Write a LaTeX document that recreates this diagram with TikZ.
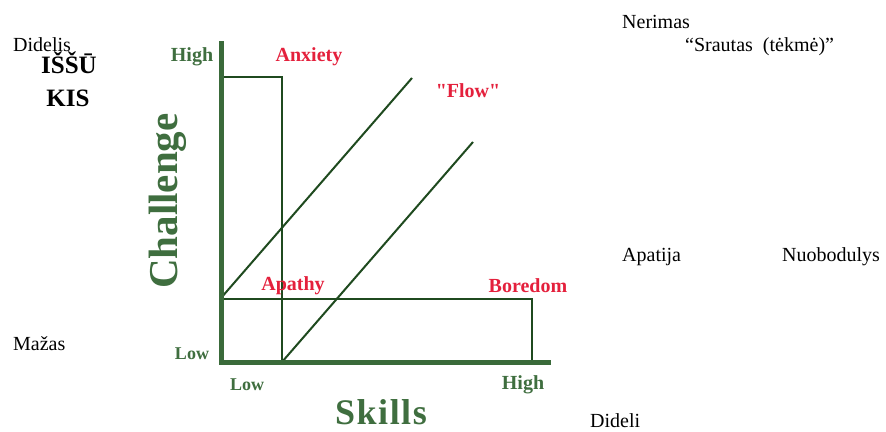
\documentclass[tikz,border=0pt]{standalone}
\usepackage{fontspec}
\setmainfont{Liberation Serif}
\newfontfamily\rawserif{Liberation Serif}[Ligatures=TeXOff]
\definecolor{axisgreen}{HTML}{3A6A3A}
\definecolor{linegreen}{HTML}{1F4A1F}
\definecolor{labgreen}{HTML}{3F6E3F}
\definecolor{labred}{HTML}{E4203C}
\begin{document}
\begin{tikzpicture}[x=1pt,y=-1pt,
  axis/.style={draw=axisgreen,line width=5pt},
  zone/.style={draw=linegreen,line width=2.4pt},
  flowline/.style={draw=linegreen,line width=2pt},
  tick/.style={text=labgreen,font=\fontsize{20}{22}\selectfont\bfseries,inner sep=0pt},
  zlab/.style={text=labred,font=\fontsize{20}{22}\selectfont\bfseries,inner sep=0pt},
  ltx/.style={font=\fontsize{20}{22}\selectfont,inner sep=0pt,anchor=base west},
  ltb/.style={font=\fontsize{25}{27}\selectfont\bfseries,inner sep=0pt,anchor=base}]
\useasboundingbox (0,0) rectangle (886,431);
% coordinates
\coordinate (top) at (221,43);
\coordinate (origin) at (221,362);
\coordinate (xend) at (548,362);
\coordinate (ax1) at (221,77);
\coordinate (ax2) at (282,77);
\coordinate (ax3) at (282,362);
\coordinate (ap1) at (221,299);
\coordinate (bo1) at (532,299);
\coordinate (bo2) at (532,362);
\coordinate (f1a) at (221,298);
\coordinate (f1b) at (412,78);
\coordinate (f2a) at (282,362);
\coordinate (f2b) at (473,142);
% zones
\draw[zone] (ax1) -- (ax2) -- (ax3);
\draw[zone] (ap1) -- (bo1) -- (bo2);
\draw[flowline] (f1a) -- (f1b);
\draw[flowline] (f2a) -- (f2b);
% axes
\draw[axis,line cap=rect] (top) -- (origin) -- (xend);
% axis labels
\node[tick] (yhigh) at (192,57) {High};
\node[tick,font=\fontsize{18}{20}\selectfont\bfseries] (ylow) at (192,354) {Low};
\node[tick,font=\fontsize{18}{20}\selectfont\bfseries] (xlow) at (247,385) {Low};
\node[tick] (xhigh) at (523,385) {High};
\node[text=labgreen,font=\fontsize{36}{38}\selectfont\bfseries,inner sep=0pt,anchor=base] (skills) at (381,424) {S\kern1.5pt k\kern1.5pt i\kern1.5pt l\kern1.5pt l\kern1.5pt s};
\node[text=labgreen,font=\fontsize{41}{43}\selectfont\bfseries,inner sep=0pt,rotate=90] (chal) at (168,201) {Challenge};
% zone labels
\node[zlab] (anx) at (309,57) {Anxiety};
\node[zlab,font=\rawserif\fontsize{20}{22}\selectfont\bfseries] (flow) at (468,91) {"Flow"};
\node[zlab] (apa) at (293,286) {Apathy};
\node[zlab] (bor) at (528,286) {Boredom};
% Lithuanian texts
\node[ltx] (didelis) at (13,51) {Didelis};
\node[ltb] (issu) at (69,73) {IŠŠŪ};
\node[ltb] (kis) at (68,106) {KIS};
\node[ltx] (mazas) at (13,350) {Mažas};
\node[ltx] (nerimas) at (622,28) {Nerimas};
\node[ltx] (srautas) at (685,51) {“Srautas\ \ (tėkmė)”};
\node[ltx] (apatija) at (622,261) {Apatija};
\node[ltx] (nuobod) at (782,261) {Nuobodulys};
\node[ltx] (dideli) at (590,427) {Dideli};
\end{tikzpicture}
\end{document}
